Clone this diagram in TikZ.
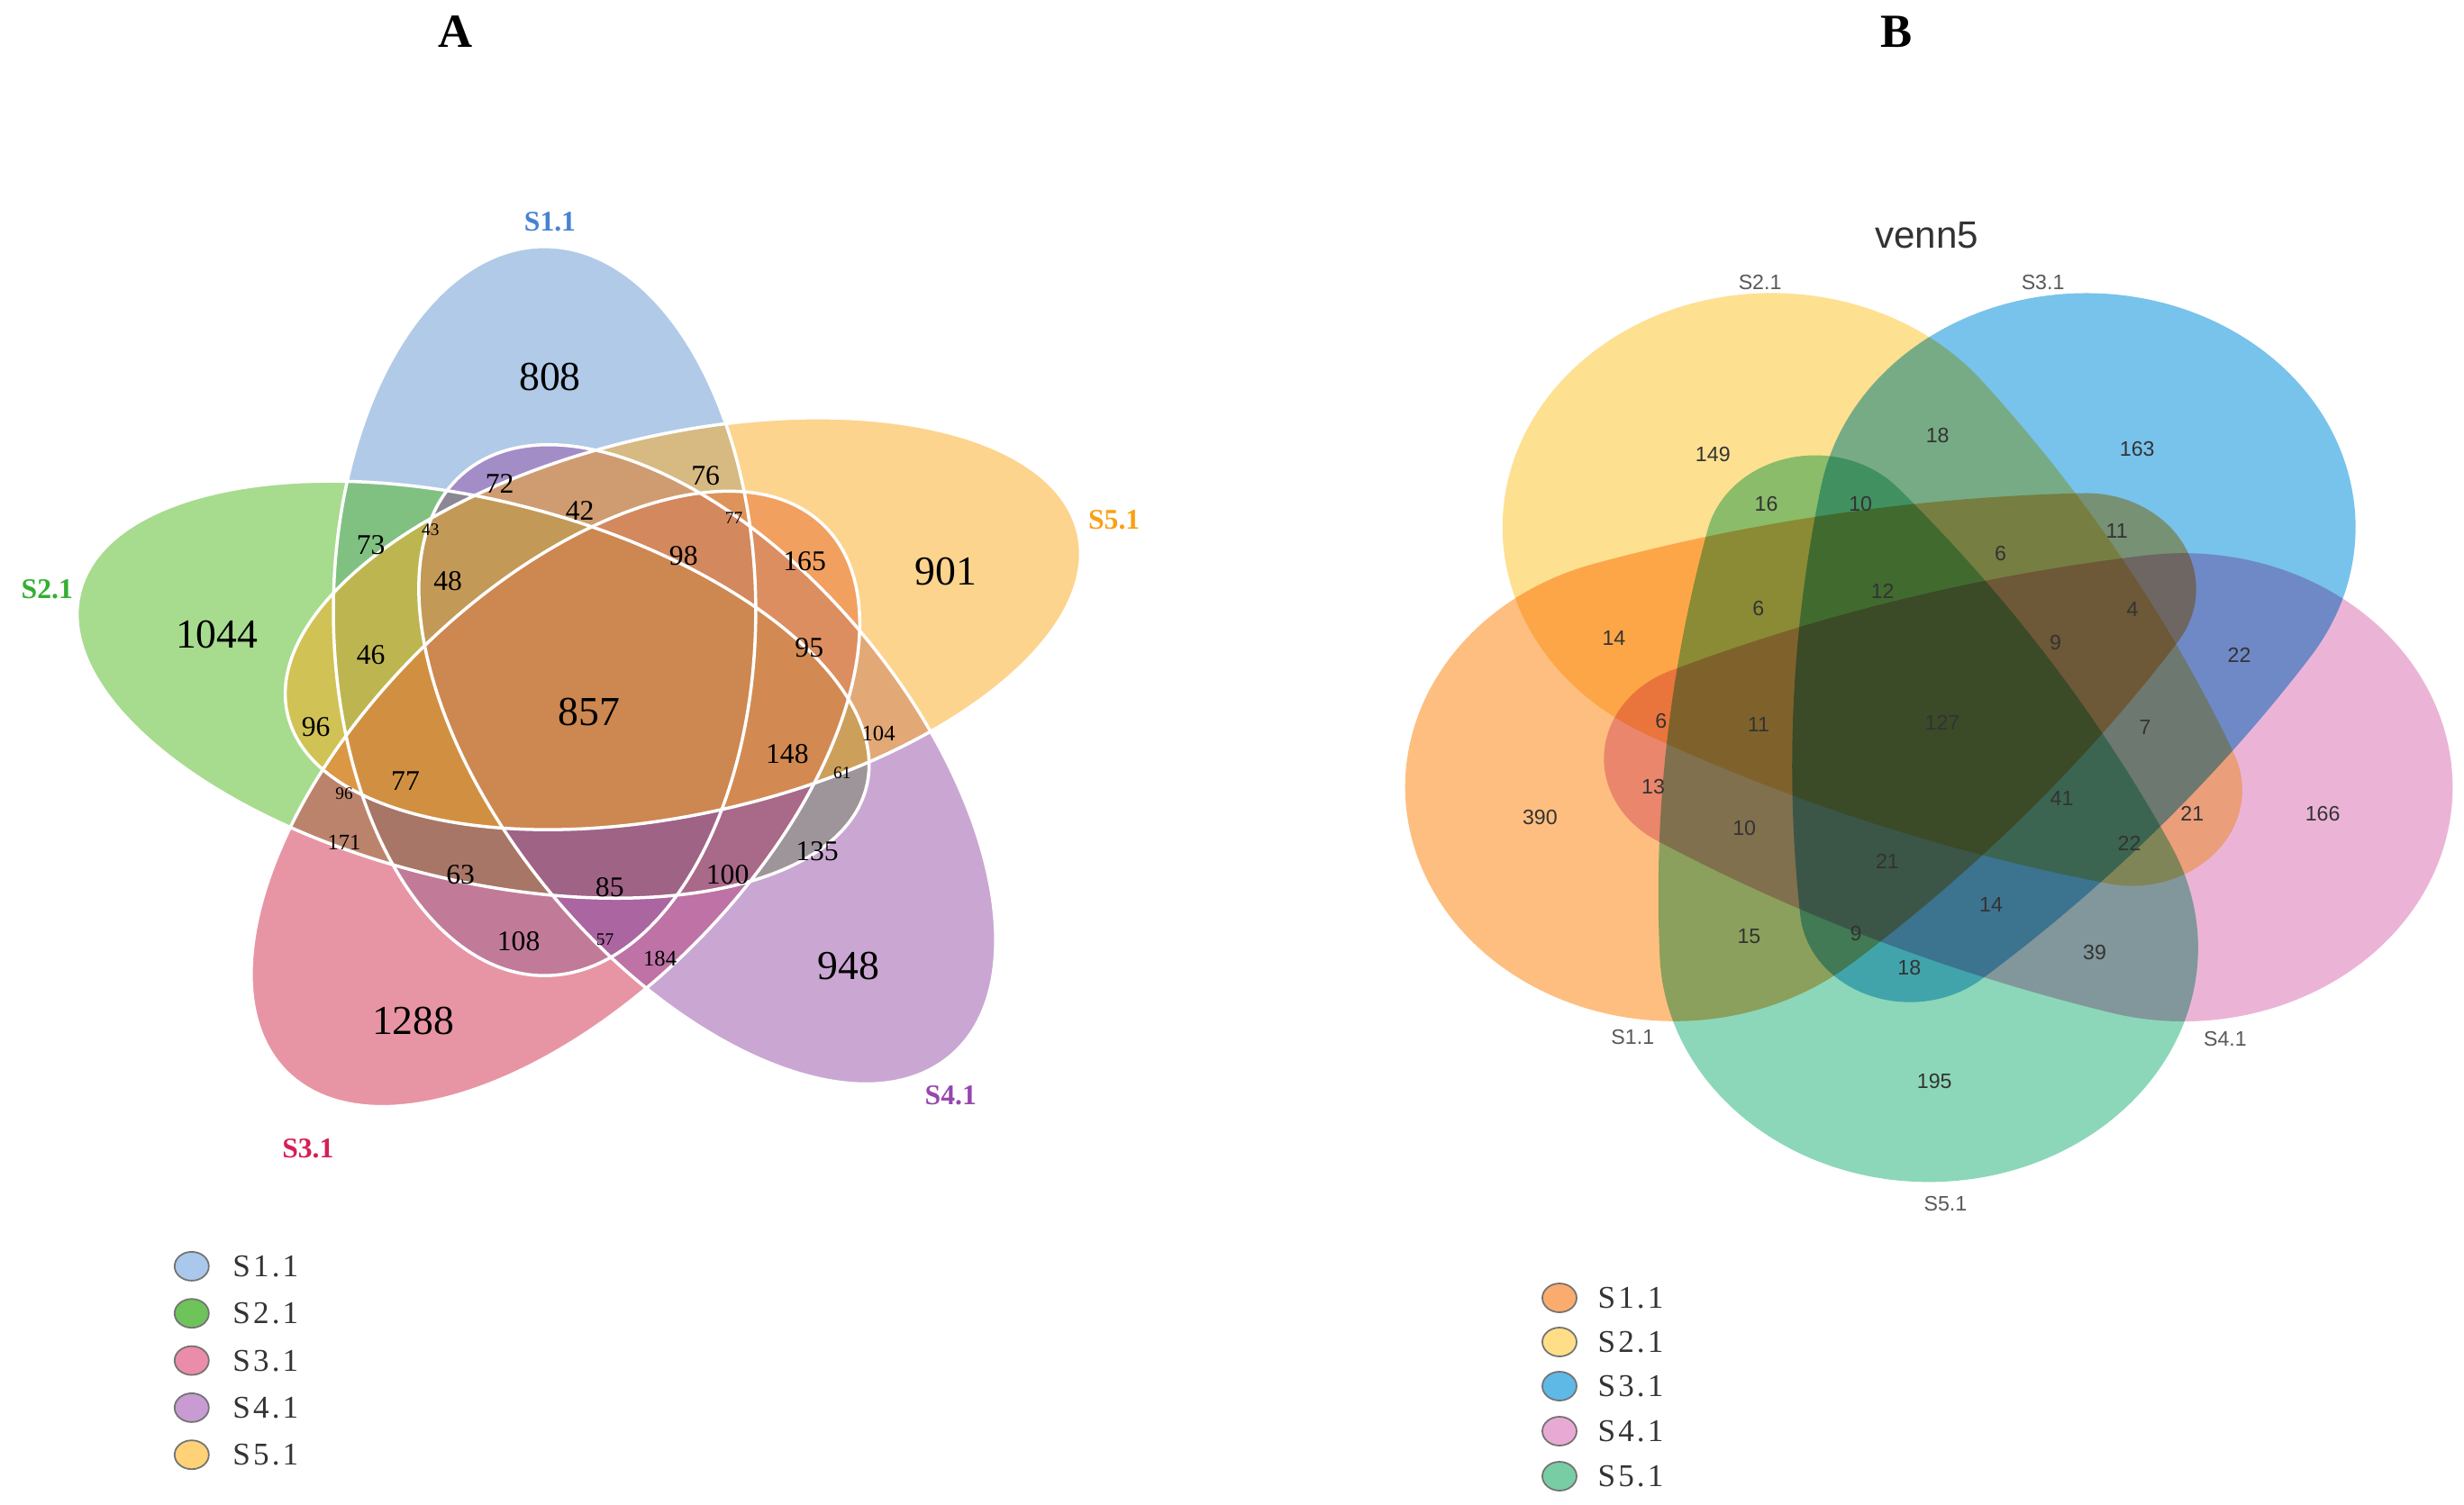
\documentclass[tikz,border=0pt]{standalone}
\usepackage{fontspec}
\setmainfont{Liberation Serif}
\newfontfamily\helv{Liberation Sans}
\newfontfamily\legfont[LetterSpace=9]{Liberation Serif}
\usetikzlibrary{positioning,shapes.geometric}

\definecolor{aBlue}{RGB}{100,150,210}
\definecolor{aGreen}{RGB}{80,185,30}
\definecolor{aPink}{RGB}{209,45,75}
\definecolor{aPurple}{RGB}{151,81,167}
\definecolor{aOrange}{RGB}{251,171,29}
\definecolor{bOrange}{RGB}{254,190,128}
\definecolor{bYellow}{RGB}{254,224,145}
\definecolor{bBlue}{RGB}{120,195,235}
\definecolor{bPink}{RGB}{235,180,215}
\definecolor{bGreen}{RGB}{140,215,185}
\definecolor{labOne}{RGB}{70,130,210}
\definecolor{labTwo}{RGB}{50,175,50}
\definecolor{labThree}{RGB}{215,30,85}
\definecolor{labFour}{RGB}{150,70,175}
\definecolor{labFive}{RGB}{250,160,20}

\tikzset{
  egg/.pic={\path[pic actions] (-0.527,2.545)
    arc[start angle=101.7, end angle=117.45, radius=17.443]
    arc[start angle=117.45, end angle=242.55, radius=1.064]
    arc[start angle=-117.45, end angle=-101.7, radius=17.443]
    arc[start angle=-101.7, end angle=101.7, radius=2.599] -- cycle;},
  numbig/.style={inner sep=0pt, font=\fontsize{13}{13}\selectfont},
  nummid/.style={inner sep=0pt, font=\fontsize{9}{9}\selectfont},
  numsml/.style={inner sep=0pt, font=\fontsize{7}{7}\selectfont},
  numtiny/.style={inner sep=0pt, font=\fontsize{5.5}{5.5}\selectfont},
  numB/.style={inner sep=0pt, text=black!80, font=\helv\fontsize{6.6}{6.6}\selectfont},
  setA/.style={inner sep=0pt, font=\bfseries\fontsize{9}{9}\selectfont},
  setB/.style={inner sep=0pt, text=black!65, font=\helv\fontsize{6.6}{6.6}\selectfont},
  panel/.style={inner sep=0pt, font=\bfseries\fontsize{15}{15}\selectfont},
  legdot/.style={ellipse, draw=black!55, line width=0.5pt, minimum width=0.38cm, minimum height=0.32cm, inner sep=0pt},
  legtxt/.style={inner sep=0pt, text=black!80, font=\legfont\fontsize{10}{10}\selectfont},
  rim/.style={draw=white, line width=1pt}
}

\begin{document}
\begin{tikzpicture}
\useasboundingbox (0,0) rectangle (27.35,-16.70);
\fill[white] (0,0) rectangle (27.35,-16.70);

% panel A
\begin{scope}[xscale=1.12]
\fill[aBlue, fill opacity=0.5, shift={(5.397,-6.785)}, rotate=90] (0,0) ellipse (4.047 and 2.093);
\fill[aGreen, fill opacity=0.5, shift={(4.689,-7.657)}, rotate=-16.6] (0,0) ellipse (4.047 and 2.093);
\fill[aPink, fill opacity=0.5, shift={(5.505,-8.870)}, rotate=51.2] (0,0) ellipse (4.047 and 2.093);
\fill[aPurple, fill opacity=0.5, shift={(7.009,-8.486)}, rotate=-55.8] (0,0) ellipse (4.047 and 2.093);
\fill[aOrange, fill opacity=0.5, shift={(6.768,-6.925)}, rotate=15.4] (0,0) ellipse (4.047 and 2.093);
\draw[rim, shift={(5.397,-6.785)}, rotate=90] (0,0) ellipse (4.047 and 2.093);
\draw[rim, shift={(4.689,-7.657)}, rotate=-16.6] (0,0) ellipse (4.047 and 2.093);
\draw[rim, shift={(5.505,-8.870)}, rotate=51.2] (0,0) ellipse (4.047 and 2.093);
\draw[rim, shift={(7.009,-8.486)}, rotate=-55.8] (0,0) ellipse (4.047 and 2.093);
\draw[rim, shift={(6.768,-6.925)}, rotate=15.4] (0,0) ellipse (4.047 and 2.093);
\end{scope}

\node[panel] (titA) at (5.058,-0.349) {A};
\node[setA, text=labOne] (sA1) at (6.105,-2.459) {S1.1};
\node[setA, text=labTwo] (sA2) at (0.523,-6.541) {S2.1};
\node[setA, text=labThree] (sA3) at (3.419,-12.751) {S3.1};
\node[setA, text=labFour] (sA4) at (10.553,-12.158) {S4.1};
\node[setA, text=labFive] (sA5) at (12.367,-5.774) {S5.1};

\node[numbig] (nA808) at (6.105,-4.186) {808};
\node[numbig] (nA1044) at (2.407,-7.047) {1044};
\node[numbig] (nA901) at (10.501,-6.349) {901};
\node[numbig] (nA1288) at (4.588,-11.338) {1288};
\node[numbig] (nA948) at (9.419,-10.727) {948};
\node[numbig] (nA857) at (6.541,-7.902) {857};
\node[nummid] (nA72) at (5.547,-5.372) {72};
\node[nummid] (nA76) at (7.832,-5.285) {76};
\node[nummid] (nA42) at (6.436,-5.669) {42};
\node[nummid] (nA73) at (4.117,-6.053) {73};
\node[nummid] (nA98) at (7.588,-6.175) {98};
\node[nummid] (nA165) at (8.931,-6.227) {165};
\node[nummid] (nA48) at (4.971,-6.454) {48};
\node[nummid] (nA46) at (4.117,-7.274) {46};
\node[nummid] (nA95) at (8.983,-7.187) {95};
\node[nummid] (nA96a) at (3.506,-8.076) {96};
\node[nummid] (nA148) at (8.739,-8.373) {148};
\node[nummid] (nA77a) at (4.500,-8.669) {77};
\node[numsml] (nA104) at (9.751,-8.146) {104};
\node[numsml] (nA171) at (3.820,-9.349) {171};
\node[nummid] (nA63) at (5.111,-9.716) {63};
\node[nummid] (nA85) at (6.768,-9.855) {85};
\node[nummid] (nA100) at (8.076,-9.716) {100};
\node[nummid] (nA135) at (9.070,-9.454) {135};
\node[nummid] (nA108) at (5.756,-10.448) {108};
\node[numsml] (nA184) at (7.326,-10.640) {184};
\node[numtiny] (nA43) at (4.779,-5.878) {43};
\node[numtiny] (nA77b) at (8.146,-5.756) {77};
\node[numtiny] (nA96b) at (3.820,-8.809) {96};
\node[numtiny] (nA61) at (9.349,-8.582) {61};
\node[numtiny] (nA57) at (6.716,-10.431) {57};

% legend A
\node[legdot, fill={rgb,255:red,170;green,200;blue,235}] (ldA1) at (2.128,-14.059) {};
\node[legdot, fill={rgb,255:red,110;green,195;blue,90}] (ldA2) at (2.128,-14.582) {};
\node[legdot, fill={rgb,255:red,235;green,140;blue,170}] (ldA3) at (2.128,-15.106) {};
\node[legdot, fill={rgb,255:red,200;green,155;blue,210}] (ldA4) at (2.128,-15.629) {};
\node[legdot, fill={rgb,255:red,255;green,210;blue,120}] (ldA5) at (2.128,-16.152) {};
\node[legtxt, right=0.25cm of ldA1] (ltA1) {S1.1};
\node[legtxt, right=0.25cm of ldA2] (ltA2) {S2.1};
\node[legtxt, right=0.25cm of ldA3] (ltA3) {S3.1};
\node[legtxt, right=0.25cm of ldA4] (ltA4) {S4.1};
\node[legtxt, right=0.25cm of ldA5] (ltA5) {S5.1};

% panel B
\begin{scope}[shift={(21.411,-7.942)}, xscale=1.15]
\begin{scope}[blend group=multiply]
\pic[transform shape, fill=bOrange, rotate=198, xshift=2.582cm, rotate=11] {egg};
\pic[transform shape, fill=bYellow, rotate=126, xshift=2.582cm, rotate=14] {egg};
\pic[transform shape, fill=bBlue, rotate=54, xshift=2.582cm, rotate=14] {egg};
\pic[transform shape, fill=bPink, rotate=-18, xshift=2.582cm, rotate=14] {egg};
\pic[transform shape, fill=bGreen, rotate=-90, xshift=2.582cm, rotate=14] {egg};
\end{scope}
\end{scope}

\node[panel] (titB) at (21.054,-0.349) {B};
\node[inner sep=0pt, text=black!80, font=\helv\fontsize{12}{12}\selectfont] (vtitle) at (21.385,-2.616) {venn5};
\node[setB] (sB1) at (18.123,-11.512) {S1.1};
\node[setB] (sB2) at (19.536,-3.140) {S2.1};
\node[setB] (sB3) at (22.676,-3.140) {S3.1};
\node[setB] (sB4) at (24.699,-11.530) {S4.1};
\node[setB] (sB5) at (21.594,-13.361) {S5.1};

\node[numB] (nB149) at (19.013,-5.041) {149};
\node[numB] (nB18a) at (21.507,-4.832) {18};
\node[numB] (nB163) at (23.722,-4.989) {163};
\node[numB] (nB16) at (19.606,-5.599) {16};
\node[numB] (nB10a) at (20.652,-5.599) {10};
\node[numB] (nB11a) at (23.496,-5.896) {11};
\node[numB] (nB14a) at (17.914,-7.082) {14};
\node[numB] (nB6a) at (19.519,-6.750) {6};
\node[numB] (nB12) at (20.897,-6.559) {12};
\node[numB] (nB6b) at (22.205,-6.140) {6};
\node[numB] (nB4) at (23.670,-6.768) {4};
\node[numB] (nB9a) at (22.815,-7.134) {9};
\node[numB] (nB22a) at (24.856,-7.274) {22};
\node[numB] (nB6c) at (18.437,-8.006) {6};
\node[numB] (nB11b) at (19.519,-8.041) {11};
\node[numB] (nB127) at (21.560,-8.024) {127};
\node[numB] (nB7) at (23.810,-8.076) {7};
\node[numB] (nB13) at (18.350,-8.739) {13};
\node[numB] (nB41) at (22.885,-8.861) {41};
\node[numB] (nB21a) at (24.333,-9.035) {21};
\node[numB] (nB166) at (25.781,-9.035) {166};
\node[numB] (nB390) at (17.094,-9.070) {390};
\node[numB] (nB10b) at (19.362,-9.192) {10};
\node[numB] (nB22b) at (23.635,-9.367) {22};
\node[numB] (nB21b) at (20.949,-9.559) {21};
\node[numB] (nB14b) at (22.100,-10.047) {14};
\node[numB] (nB15) at (19.414,-10.396) {15};
\node[numB] (nB9b) at (20.600,-10.361) {9};
\node[numB] (nB39) at (23.251,-10.570) {39};
\node[numB] (nB18b) at (21.193,-10.745) {18};
\node[numB] (nB195) at (21.472,-12.001) {195};

% legend B
\node[legdot, fill={rgb,255:red,250;green,172;blue,110}] (ldB1) at (17.310,-14.410) {};
\node[legdot, fill={rgb,255:red,255;green,222;blue,135}] (ldB2) at (17.310,-14.900) {};
\node[legdot, fill={rgb,255:red,95;green,185;blue,230}] (ldB3) at (17.310,-15.390) {};
\node[legdot, fill={rgb,255:red,232;green,170;blue,212}] (ldB4) at (17.310,-15.890) {};
\node[legdot, fill={rgb,255:red,120;green,205;blue,165}] (ldB5) at (17.310,-16.390) {};
\node[legtxt, right=0.22cm of ldB1] (ltB1) {S1.1};
\node[legtxt, right=0.22cm of ldB2] (ltB2) {S2.1};
\node[legtxt, right=0.22cm of ldB3] (ltB3) {S3.1};
\node[legtxt, right=0.22cm of ldB4] (ltB4) {S4.1};
\node[legtxt, right=0.22cm of ldB5] (ltB5) {S5.1};
\end{tikzpicture}
\end{document}
